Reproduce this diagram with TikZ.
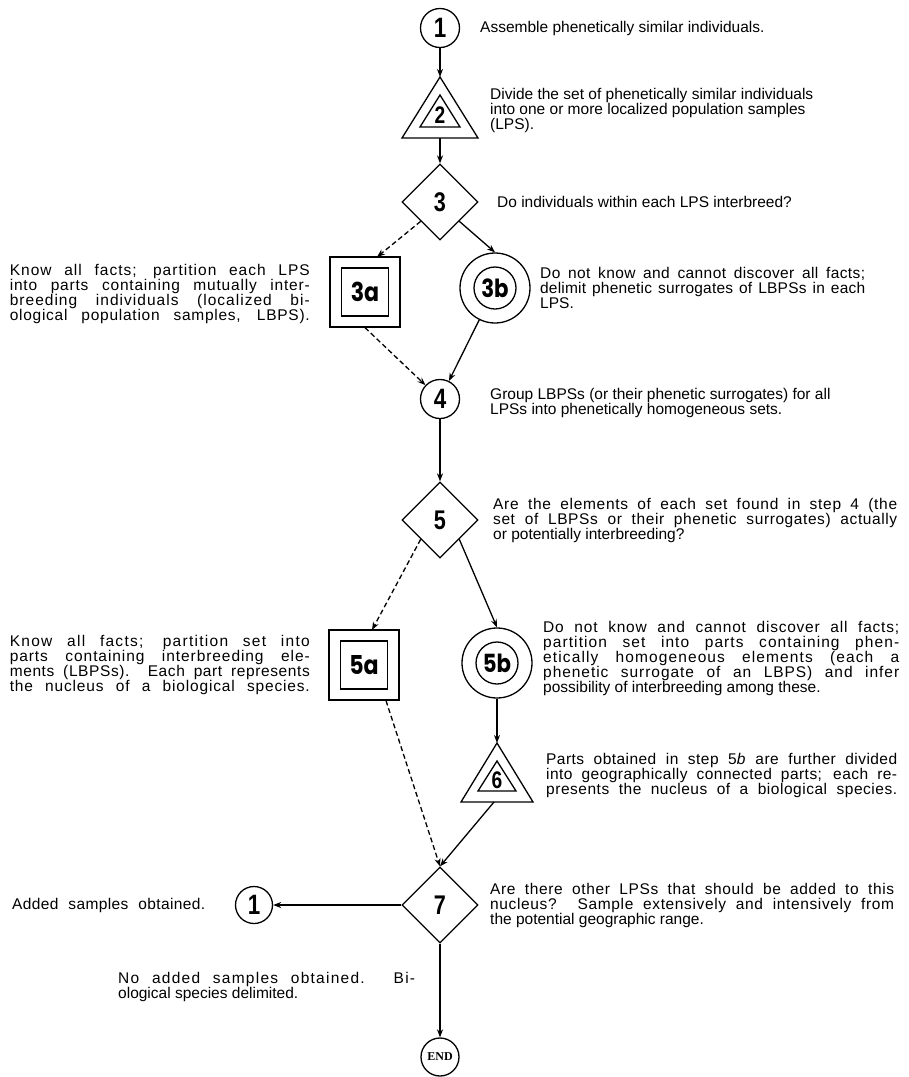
\documentclass[tikz,border=0pt]{standalone}
\usepackage{fontspec}
\setmainfont{Liberation Sans}
\newfontfamily\labfont{Liberation Sans}
\newfontfamily\popfont{Poppins}
\newfontfamily\endfont{Liberation Serif}
\usetikzlibrary{shapes.geometric,arrows.meta,calc}
\ExplSyntaxOn
\box_new:N \l_fit_box
\fp_new:N \l_fit_fp
\cs_new_protected:Npn \jl #1 #2
  {
    \hbox_set:Nn \l_fit_box {#2}
    \fp_set:Nn \l_fit_fp
      { max(0, 0.5 * ( \dim_to_fp:n {#1} - \dim_to_fp:n { \box_wd:N \l_fit_box } ) / ( \str_count:n {#2} * 15.5 ) * 100 ) }
    \makebox[#1][s]{ \exp_args:Nx \addfontfeature { LetterSpace = \fp_eval:n { round(\l_fit_fp, 1) } } #2 }
  }
\ExplSyntaxOff
\newcommand\dg[1]{\scalebox{0.8}[1]{\labfont\bfseries #1}}
\newcommand\dga[2]{\scalebox{0.85}[1]{\popfont\bfseries #1#2}}
\begin{document}
\begin{tikzpicture}[x=1pt,y=-1pt,
  lw/.style={line width=1.3pt},
  arr/.style={lw,-{Stealth[length=8pt,width=6pt]}},
  darr/.style={arr,dash pattern=on 5pt off 3pt},
  txt/.style={font=\fontsize{15.5}{15}\selectfont,inner sep=0pt,align=left},
  circ/.style={circle,draw,lw,minimum size=39pt,inner sep=0pt,font=\fontsize{28}{28}\selectfont},
  bigcirc/.style={circle,draw,lw,minimum size=70pt,inner sep=0pt},
  dia/.style={diamond,draw,lw,aspect=1,minimum width=76pt,minimum height=76pt,inner sep=0pt,font=\fontsize{27}{27}\selectfont},
  obox/.style={rectangle,draw,lw,minimum width=70pt,minimum height=70pt,inner sep=0pt},
  ibox/.style={rectangle,draw,lw,minimum width=47pt,minimum height=48pt,inner sep=0pt,font=\fontsize{26}{26}\selectfont},
  icirc/.style={circle,draw,lw,minimum size=42pt,inner sep=0pt,font=\fontsize{25}{25}\selectfont}]
\fill[white] (0,0) rectangle (909,1077);
\useasboundingbox (0,0) rectangle (909,1077);

% node 1
\node[circ] (n1) at (440,28) {\dg{1}};
\node[txt,anchor=west] (t1) at (480,28) {Assemble phenetically similar individuals.};

% triangle 2
\draw[lw] (440,77) -- (478,138) -- (402,138) -- cycle;
\draw[lw] (440,95) -- (460,127) -- (420,127) -- cycle;
\node[inner sep=0pt,font=\fontsize{24}{24}\selectfont] (n2) at (440,115) {\dg{2}};
\coordinate (t2top) at (440,77);
\coordinate (t2bot) at (440,138);
\node[txt,anchor=west] (t2) at (490,110) {Divide the set of phenetically similar individuals\\into one or more localized population samples\\(LPS).};

% diamond 3
\node[dia] (d3) at (440,202) {\dg{3}};
\node[txt,anchor=west] (t3) at (497,202) {Do individuals within each LPS interbreed?};

% box 3a
\node[obox] (b3a) at (365,292) {};
\node[ibox] (b3ai) at (b3a) {\dga{3}{a}};
\coordinate (b3atop) at (377,257);
\node[txt,anchor=east] (t3a) at (310,294) {\jl{300pt}{Know all facts; partition each LPS}\\\jl{300pt}{into parts containing mutually inter-}\\\jl{300pt}{breeding individuals (localized bi-}\\\jl{300pt}{ological population samples, LBPS).}};

% circle 3b
\node[bigcirc] (c3b) at (495,288) {};
\node[icirc] (c3bi) at (c3b) {\dga{3}{b}};
\node[txt,anchor=west] (t3b) at (540,288) {\jl{325pt}{Do not know and cannot discover all facts;}\\\jl{325pt}{delimit phenetic surrogates of LBPSs in each}\\LPS.};

% node 4
\node[circ] (n4) at (440,399) {\dg{4}};
\node[txt,anchor=west] (t4) at (490,403) {Group LBPSs (or their phenetic surrogates) for all\\LPSs into phenetically homogeneous sets.};

% diamond 5
\node[dia] (d5) at (440,520) {\dg{5}};
\node[txt,anchor=west] (t5) at (493,520) {\jl{404pt}{Are the elements of each set found in step 4 (the}\\\jl{404pt}{set of LBPSs or their phenetic surrogates) actually}\\or potentially interbreeding?};

% box 5a
\node[obox] (b5a) at (364,665) {};
\node[ibox] (b5ai) at (b5a) {\dga{5}{a}};
\coordinate (b5atop) at (372,630);
\coordinate (b5abot) at ($(b5a.south)+(22,0)$);
\node[txt,anchor=east] (t5a) at (310,665) {\jl{300pt}{Know all facts; partition set into}\\\jl{300pt}{parts containing interbreeding ele-}\\\jl{300pt}{ments (LBPSs). Each part represents}\\\jl{300pt}{the nucleus of a biological species.}};

% circle 5b
\node[bigcirc] (c5b) at (497,663) {};
\node[icirc] (c5bi) at (c5b) {\dga{5}{b}};
\node[txt,anchor=west] (t5b) at (543,658) {\jl{356pt}{Do not know and cannot discover all facts;}\\\jl{356pt}{partition set into parts containing phen-}\\\jl{356pt}{etically homogeneous elements (each a}\\\jl{356pt}{phenetic surrogate of an LBPS) and infer}\\possibility of interbreeding among these.};

% triangle 6
\draw[lw] (497,743) -- (533,802) -- (461,802) -- cycle;
\draw[lw] (497,761) -- (516,791) -- (478,791) -- cycle;
\node[inner sep=0pt,font=\fontsize{24}{24}\selectfont] (n6) at (497,780) {\dg{6}};
\coordinate (t6top) at (497,743);
\coordinate (t6bot) at (494,802);
\node[txt,anchor=west] (t6) at (546,775) {\jl{351pt}{Parts obtained in step 5\textit{b} are further divided}\\\jl{351pt}{into geographically connected parts; each re-}\\\jl{351pt}{presents the nucleus of a biological species.}};

% diamond 7
\node[dia] (d7) at (440,905) {\dg{7}};
\node[txt,anchor=west] (t7) at (490,905) {\jl{404pt}{Are there other LPSs that should be added to this}\\\jl{404pt}{nucleus? Sample extensively and intensively from}\\the potential geographic range.};

% node 1 again
\node[circ,minimum size=37pt] (n1b) at (254,905) {\dg{1}};
\node[txt,anchor=west] (tadd) at (12,905) {\jl{193pt}{Added samples obtained.}};
\node[txt,anchor=west] (tno) at (118,987) {\jl{297pt}{No added samples obtained. Bi-}\\ological species delimited.};

% END
\node[circle,draw,lw,minimum size=38pt,inner sep=0pt,font=\endfont\bfseries\fontsize{12}{12}\selectfont] (nend) at (440,1057) {END};

% connectors
\draw[arr] (n1) -- (t2top);
\draw[arr] (t2bot) -- (d3.north);
\draw[darr] (d3.south west) -- (b3atop);
\draw[arr] (d3.south east) -- (c3b.north);
\draw[darr] (b3a.south) -- (n4);
\draw[arr] (c3b) -- (n4);
\draw[arr] (n4) -- (d5.north);
\draw[darr] (d5.south west) -- (b5atop);
\draw[arr] (d5.south east) -- (c5b.north);
\draw[arr] (c5b) -- (t6top);
\draw[arr] (t6bot) -- (d7.north);
\draw[darr] (b5abot) -- (d7.north);
\draw[arr] (d7.west) -- (n1b);
\draw[arr] (d7.south) -- (nend);
\end{tikzpicture}
\end{document}
